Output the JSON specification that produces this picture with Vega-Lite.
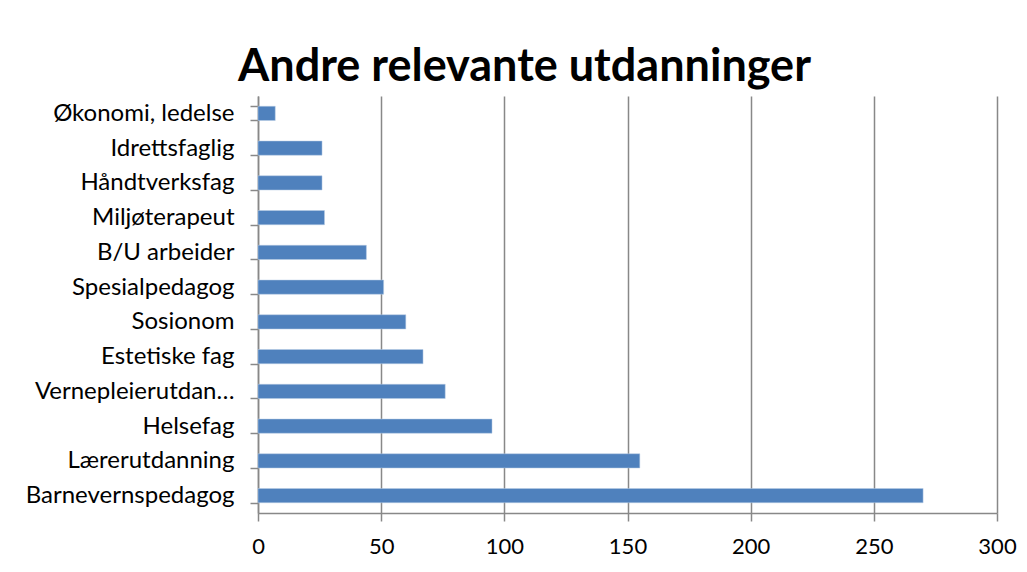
{
  "$schema": "https://vega.github.io/schema/vega-lite/v6.json",
  "autosize": "none",
  "width": 739,
  "height": 417,
  "padding": {"left": 258, "top": 96, "right": 30, "bottom": 59},
  "background": "white",
  "title": {
    "text": "Andre relevante utdanninger",
    "font": "Lato",
    "fontSize": 45,
    "fontWeight": "bold",
    "color": "black",
    "anchor": "middle",
    "frame": "group",
    "dx": -103,
    "dy": 57,
    "baseline": "alphabetic",
    "offset": 15
  },
  "data": {
    "values": [
      {"kategori": "Økonomi, ledelse", "antall": 7},
      {"kategori": "Idrettsfaglig", "antall": 26},
      {"kategori": "Håndtverksfag", "antall": 26},
      {"kategori": "Miljøterapeut", "antall": 27},
      {"kategori": "B/U arbeider", "antall": 44},
      {"kategori": "Spesialpedagog", "antall": 51},
      {"kategori": "Sosionom", "antall": 60},
      {"kategori": "Estetiske fag", "antall": 67},
      {"kategori": "Vernepleierutdan…", "antall": 76},
      {"kategori": "Helsefag", "antall": 95},
      {"kategori": "Lærerutdanning", "antall": 155},
      {"kategori": "Barnevernspedagog", "antall": 270}
    ]
  },
  "mark": {"type": "bar", "color": "#4F81BD", "stroke": "#B9CDE5", "strokeWidth": 0.5},
  "encoding": {
    "y": {
      "field": "kategori",
      "type": "nominal",
      "sort": null,
      "scale": {"paddingInner": 0.59, "paddingOuter": 0.295},
      "axis": {
        "title": null,
        "tickBand": "extent",
        "tickSize": 8,
        "tickColor": "#888888",
        "tickWidth": 1.5,
        "domainColor": "#888888",
        "domainWidth": 1.5,
        "labelFont": "Lato",
        "labelFontSize": 24,
        "labelColor": "black",
        "labelPadding": 16,
        "labelLimit": 300,
        "grid": false
      }
    },
    "x": {
      "field": "antall",
      "type": "quantitative",
      "scale": {"domain": [0, 300], "nice": false},
      "axis": {
        "title": null,
        "values": [0, 50, 100, 150, 200, 250, 300],
        "labelFlush": false,
        "tickSize": 8,
        "tickColor": "#888888",
        "tickWidth": 1.5,
        "domainColor": "#888888",
        "domainWidth": 1.5,
        "grid": true,
        "gridColor": "#888888",
        "gridWidth": 1.5,
        "labelFont": "Lato",
        "labelFontSize": 22,
        "labelColor": "black",
        "labelPadding": 15
      }
    }
  },
  "config": {"view": {"stroke": null}}
}
